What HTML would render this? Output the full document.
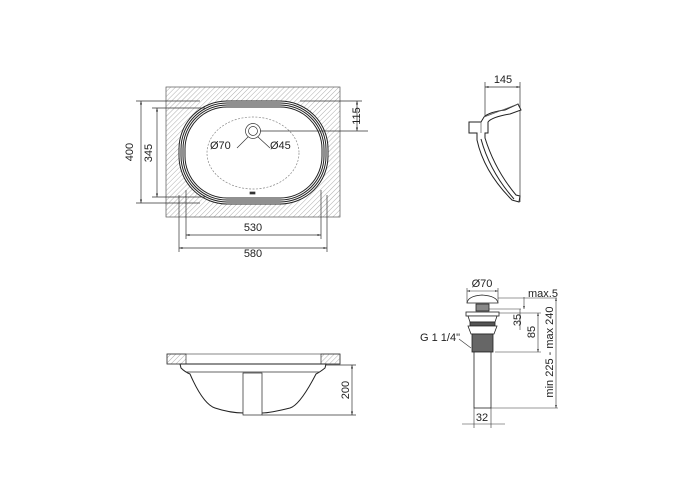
<!DOCTYPE html>
<html><head><meta charset="utf-8"><style>
html,body{margin:0;padding:0;background:#fff;}
svg{display:block;}
text{font-family:"Liberation Sans",sans-serif;font-size:11px;fill:#222;}
</style></head><body>
<svg width="700" height="500" viewBox="0 0 700 500" xmlns="http://www.w3.org/2000/svg">
<defs>
<pattern id="h" width="3.5" height="3.5" patternUnits="userSpaceOnUse" patternTransform="rotate(45)">
<line x1="0" y1="0" x2="0" y2="3.5" stroke="#999" stroke-width="0.8"/>
</pattern>
<marker id="a" viewBox="0 0 10 10" refX="10" refY="5" markerWidth="6" markerHeight="5" orient="auto-start-reverse"><path d="M0,2 L10,5 L0,8z" fill="#333"/></marker>
</defs>
<g stroke="#333" stroke-width="0.7" fill="none">
<rect x="166" y="87" width="174" height="130" fill="url(#h)" stroke="#555"/>
<rect x="179" y="101" width="149" height="103" rx="48" ry="48" fill="#fff" stroke="#222" stroke-width="1"/>
<rect x="181" y="103" width="145" height="99" rx="46" ry="46" stroke="#222" stroke-width="1"/>
<rect x="183" y="105" width="141" height="95" rx="44" ry="44" stroke="#222" stroke-width="1"/>
<rect x="185" y="107" width="137" height="91" rx="42" ry="42" stroke="#222" stroke-width="1"/>
<ellipse cx="253" cy="153" rx="46" ry="36" stroke="#888" stroke-dasharray="2,1.5"/>
<circle cx="253" cy="131" r="7.5"/>
<circle cx="253" cy="131" r="4.5"/>
<rect x="250" y="192" width="5" height="2" fill="#333"/>
<path d="M136 101H200M152 108H205M136 203H200M152 197H205"/>
<line x1="141" y1="101" x2="141" y2="203" marker-start="url(#a)" marker-end="url(#a)"/>
<line x1="157" y1="108" x2="157" y2="197" marker-start="url(#a)" marker-end="url(#a)"/>
<path d="M300 101H362M260 131H368"/>
<line x1="357" y1="101" x2="357" y2="131" marker-start="url(#a)" marker-end="url(#a)"/>
<path d="M186 190V239M321 190V239M179 195V252M327 195V252"/>
<line x1="186" y1="235" x2="321" y2="235" marker-start="url(#a)" marker-end="url(#a)"/>
<line x1="179" y1="248" x2="327" y2="248" marker-start="url(#a)" marker-end="url(#a)"/>
<path d="M237 148L248 137M270 148L258 137"/>
</g>
<text x="133" y="152" transform="rotate(-90 133 152)" text-anchor="middle">400</text>
<text x="152" y="153" transform="rotate(-90 152 153)" text-anchor="middle">345</text>
<text x="363" y="116" transform="rotate(-90 363 116)" text-anchor="middle" dy="-3">115</text>
<text x="210" y="149">Ø70</text>
<text x="270" y="149">Ø45</text>
<text x="253" y="231" text-anchor="middle">530</text>
<text x="253" y="257" text-anchor="middle">580</text>

<!-- side view -->
<g stroke="#333" stroke-width="0.7" fill="none">
<path d="M485 82V120M520 82V202"/>
<line x1="485" y1="87" x2="520" y2="87" marker-start="url(#a)" marker-end="url(#a)"/>
<path d="M469 122H481L484 117Q489 112 505 110L518 104L521 110L510 114Q492 117 488 122V133H485L485 138Q495 170 516 195L520 196L519 202L512 200Q484 172 477 140V133H469Z" fill="#fff" stroke="#222" stroke-width="1"/>
<path d="M481 139Q490 172 514 199" stroke="#222" stroke-width="1"/>
<path d="M484 117L518 104" stroke="#555"/>
<path d="M481 122V133" stroke="#555"/>
</g>
<text x="503" y="83" text-anchor="middle">145</text>

<!-- front view -->
<g stroke="#333" stroke-width="0.7" fill="none">
<rect x="167" y="354" width="173" height="10" stroke="#555"/>
<rect x="167" y="354" width="19" height="10" fill="url(#h)"/>
<rect x="321" y="354" width="19" height="10" fill="url(#h)"/>
<path d="M180 364H326L325 368Q320 372 316 374Q300 405 290 408Q270 413 262 413H244Q230 413 215 408Q203 404 190 374Q185 372 181 368Z" stroke="#222" stroke-width="1"/>
<path d="M186 372H320"/>
<rect x="243" y="373" width="19" height="42" fill="#fff" stroke="#222"/>
<path d="M326 365H356M262 415H356"/>
<line x1="352" y1="365" x2="352" y2="415" marker-start="url(#a)" marker-end="url(#a)"/>
</g>
<text x="352" y="390" transform="rotate(-90 352 390)" text-anchor="middle" dy="-3">200</text>

<!-- drain -->
<g stroke="#222" stroke-width="0.8" fill="none">
<path d="M467 303Q468 296 482 295Q497 296 498 303Z" fill="#fff"/>
<rect x="476" y="304" width="13" height="7" fill="#888"/>
<rect x="466" y="312" width="33" height="4" fill="#fff"/>
<path d="M468 316H497L495 322H470Z" fill="#fff"/>
<rect x="470" y="322" width="25" height="4" fill="#555"/>
<path d="M468 326H497L494 334H471Z" fill="#fff"/>
<rect x="472" y="334" width="21" height="18" fill="#666"/>
<rect x="474" y="352" width="17" height="56" fill="#fff"/>
<g stroke="#333" stroke-width="0.6">
<path d="M467 303V288M498 303V288"/>
<line x1="467" y1="291" x2="498" y2="291" marker-start="url(#a)" marker-end="url(#a)"/>
<path d="M498 298H557M489 309H521M499 313H541M495 352H541M491 408H558"/>
<line x1="524" y1="297" x2="524" y2="309" marker-end="url(#a)"/>
<line x1="520" y1="309" x2="520" y2="330"/>
<line x1="538" y1="313" x2="538" y2="352" marker-start="url(#a)" marker-end="url(#a)"/>
<line x1="556" y1="298" x2="556" y2="408" marker-start="url(#a)" marker-end="url(#a)"/>
<path d="M474 408V428M491 408V428M462 424H505"/>
<path d="M459 339L471 348"/>
</g>
</g>
<text x="482" y="287" text-anchor="middle">Ø70</text>
<text x="528" y="297">max.5</text>
<text x="522" y="320" transform="rotate(-90 522 320)" text-anchor="middle" dy="-1">35</text>
<text x="538" y="332" transform="rotate(-90 538 332)" text-anchor="middle" dy="-3">85</text>
<text x="556" y="352" transform="rotate(-90 556 352)" text-anchor="middle" dy="-3">min 225 - max 240</text>
<text x="420" y="341">G 1 1/4"</text>
<text x="482" y="421" text-anchor="middle">32</text>
</svg>
</body></html>
